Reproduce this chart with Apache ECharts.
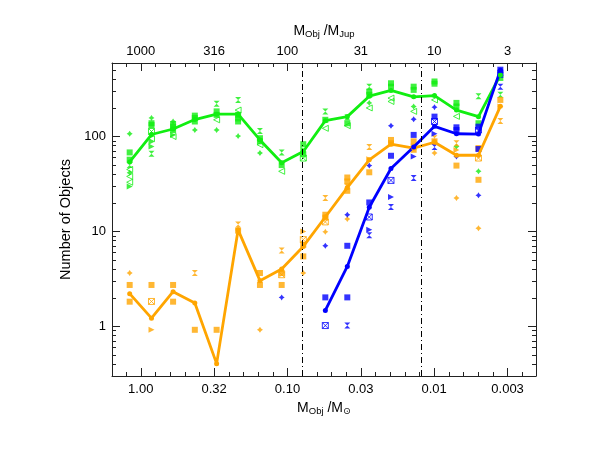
<!DOCTYPE html>
<html><head><meta charset="utf-8">
<script src="https://cdn.jsdelivr.net/npm/echarts@6/dist/echarts.min.js"></script>
<style>html,body{margin:0;padding:0;background:#fff}#c{width:598px;height:462px}</style>
</head><body><div id="c"></div>
<script>
// ---- data ----
const binMass = [1.19, 0.845, 0.602, 0.428, 0.304, 0.217, 0.154, 0.1095, 0.078, 0.0552, 0.0391, 0.0277, 0.0197, 0.0138, 0.00995, 0.00705, 0.00499, 0.00354];
const greenMean  = [54, 105, 120, 151, 172, 172, 92, 53, 69.5, 147, 162, 266, 306, 262, 270, 190, 162, 445];
const orangeMean = [2.21, 1.22, 2.32, 1.76, 0.405, 10.4, 3.03, 4.02, 6.95, 14.2, 29, 56.9, 83, 75.5, 87, 63.5, 63.5, 208];
const blueMean   = [null, null, null, null, null, null, null, null, null, 1.47, 4.28, 18, 46, 77.4, 128, 107, 106, 500];
// [bin, count, survey-symbol]
const greenPts = [
 [0,107,'s'],[0,68,'q'],[0,57,'q'],[0,50,'h'],[0,45,'l'],[0,41.6,'s'],[0,38,'l'],[0,33,'l'],[0,29.8,'r'],
 [1,157,'s'],[1,138,'q'],[1,132,'q'],[1,113,'x'],[1,95,'l'],[1,88,'r'],[1,78.5,'r'],[1,66,'h'],
 [2,144,'s'],[2,135,'q'],[2,127,'q'],[2,117,'q'],[2,104,'r'],[2,100,'l'],
 [3,166,'q'],[3,157,'q'],[3,144,'q'],[3,117,'s'],
 [4,221,'h'],[4,184,'q'],[4,169,'q'],[4,150,'l'],[4,117,'s'],
 [5,243,'h'],[5,190,'l'],[5,169,'q'],[5,155,'q'],[5,144,'q'],[5,101,'s'],
 [6,114,'h'],[6,96,'q'],[6,89,'q'],[6,82,'l'],[6,67,'s'],
 [7,68,'h'],[7,50,'q'],[7,43,'l'],
 [8,83,'q'],[8,72.5,'r'],[8,65,'q'],[8,59.3,'x'],
 [9,184,'h'],[9,150,'q'],[9,122,'l'],
 [10,160,'h'],[10,138,'q'],[10,130,'l'],
 [11,335,'h'],[11,297,'q'],[11,275,'q'],[11,226,'s'],[11,200,'l'],
 [12,364,'q'],[12,335,'q'],[12,254,'l'],[12,234,'l'],
 [13,335,'q'],[13,310,'q'],[13,207,'s'],[13,184,'l'],
 [14,380,'q'],[14,360,'q'],[14,243,'l'],
 [15,226,'q'],[15,207,'q'],[15,163,'l'],[15,78.5,'s'],
 [16,265,'h'],[16,138,'q'],[16,43,'s'],
 [17,414,'q'],[17,275,'h']
];
const orangePts = [
 [0,3.65,'s'],[0,2.73,'q'],[0,1.82,'q'],
 [1,2.73,'q'],[1,1.83,'x'],[1,0.92,'r'],
 [2,2.73,'q'],[2,1.82,'q'],
 [3,3.65,'h'],[3,0.92,'q'],
 [4,0.92,'q'],
 [5,11.8,'h'],[5,10.2,'q'],
 [6,3.65,'q'],[6,2.73,'q'],[6,0.92,'s'],
 [7,6.3,'h'],[7,3.65,'q'],[7,3.5,'x'],[7,2.73,'q'],
 [8,10,'r'],[8,8.2,'x'],[8,7.25,'q'],[8,5.46,'q'],[8,3.65,'s'],
 [9,22.5,'h'],[9,15,'q'],[9,14,'q'],[9,12.6,'x'],[9,9.9,'s'],
 [10,37,'q'],[10,33.6,'q'],[10,29.8,'h'],[10,26.8,'q'],[10,13.5,'s'],
 [11,77.5,'h'],[11,57.7,'r'],[11,42,'q'],
 [12,92,'q'],[12,85,'q'],
 [13,89,'q'],[13,78,'q'],[13,72.5,'q'],
 [14,96,'h'],[14,89,'q'],[14,67,'s'],
 [15,85,'h'],[15,72,'r'],[15,49.4,'q'],[15,22.5,'s'],
 [16,75.5,'q'],[16,59.3,'x'],[16,35,'q'],[16,10.8,'s'],
 [17,243,'q'],[17,207,'r'],[17,146,'h']
];
const bluePts = [
 [7,2.02,'s'],
 [9,7.06,'s'],[9,2.02,'q'],[9,1.02,'x'],
 [10,15,'s'],[10,7.06,'q'],[10,2.02,'q'],[10,1.02,'h'],
 [11,49.4,'s'],[11,20.2,'q'],[11,14.2,'x'],[11,10.4,'r'],[11,9.1,'h'],
 [12,130,'s'],[12,62.7,'q'],[12,34.5,'x'],[12,23,'r'],[12,18.1,'h'],
 [13,152,'s'],[13,104,'q'],[13,61.7,'r'],[13,36.5,'h'],
 [14,204,'s'],[14,162,'q'],[14,144,'x'],[14,107,'r'],[14,77.5,'h'],
 [15,125,'q'],[15,117,'q'],[15,61.7,'s'],
 [16,127,'q'],[16,117,'x'],[16,73.8,'q'],[16,24,'s'],
 [17,506,'q'],[17,470,'q'],[17,446,'q'],[17,335,'h']
];
const refLineMass = [0.08, 0.0124];               // H-burning and D-burning limits
const bottomTickMass = [1, 0.316, 0.1, 0.0316, 0.01, 0.00316];
const bottomTickLabels = ['1.00', '0.32', '0.10', '0.03', '0.01', '0.003'];
const topTickLabels = ['1000', '316', '100', '31', '10', '3'];
const yTickVals = [1, 10, 100];
const yTickLabels = ['1', '10', '100'];

// ---- chart ----
const LOG = Math.log10;
const FONT = "'Liberation Sans', Arial, Helvetica, sans-serif";
const C = {green: '#11ee11', orange: '#ffa500', blue: '#0000ff'};
const X_MIN = -2.694, X_MAX = 0.196, Y_MIN = LOG(0.3), Y_MAX = LOG(595);

const majorX = bottomTickMass.map(LOG);
const minorX = [];
for (let i = 1; i >= -26; i--) { if (i % 5 !== 0) minorX.push(i / 10); }
const majorY = yTickVals.map(LOG);
const minorY = [];
for (let e = -1; e <= 2; e++) for (let k = 2; k <= 9; k++) { const v = k * Math.pow(10, e); if (v > 0.3 && v < 595) minorY.push(LOG(v)); }

function nearestIdx(arr, v) { let b = 0; arr.forEach((a, i) => { if (Math.abs(a - v) < Math.abs(arr[b] - v)) b = i; }); return b; }

const labelStyle = {color: '#000', fontSize: 13, fontFamily: FONT};
const rich = {
  m: {fontSize: 14, fontFamily: FONT, color: '#000', lineHeight: 16},
  s: {fontSize: 9.5, fontFamily: FONT + ", 'DejaVu Sans'", color: '#000', verticalAlign: 'bottom', lineHeight: 9}
};

function xAx(pos, major, labels, name) {
  const a = {
    type: 'value', position: pos, min: X_MIN, max: X_MAX, inverse: true,
    axisLine: {show: major, onZero: false, lineStyle: {color: '#222', width: 1}},
    axisTick: {show: true, inside: true, length: major ? 8 : 4, customValues: major ? majorX : minorX, lineStyle: {color: '#222', width: 1}},
    axisLabel: {show: !!labels, customValues: majorX, margin: pos === 'bottom' ? 7 : 5, ...labelStyle,
      formatter: v => labels ? labels[nearestIdx(majorX, v)] : ''},
    splitLine: {show: false}, minorTick: {show: false}
  };
  if (name) {
    a.name = name; a.nameLocation = 'middle'; a.nameGap = pos === 'bottom' ? 17 : 24;
    a.nameTextStyle = {rich: rich};
  }
  return a;
}
function yAx(pos, major, labels) {
  const a = {
    type: 'value', position: pos, min: Y_MIN, max: Y_MAX,
    axisLine: {show: major, onZero: false, lineStyle: {color: '#222', width: 1}},
    axisTick: {show: true, inside: true, length: major ? 8 : 4, customValues: major ? majorY : minorY, lineStyle: {color: '#222', width: 1}},
    axisLabel: {show: !!labels, customValues: majorY, margin: 6, ...labelStyle,
      formatter: v => labels ? labels[nearestIdx(majorY, v)] : ''},
    splitLine: {show: false}
  };
  if (labels) {
    a.name = 'Number of Objects'; a.nameLocation = 'middle'; a.nameGap = 25;
    a.nameTextStyle = {fontSize: 14.5, fontFamily: FONT, color: '#000'};
  }
  return a;
}

const SYM = {
  s: {symbol: 'path://M5,0L7,3L10,5L7,7L5,10L3,7L0,5L3,3Z', size: 6, open: false},
  q: {symbol: 'rect', size: 6, open: false},
  r: {symbol: 'path://M0,0L10,5L0,10Z', size: 6, open: false},
  l: {symbol: 'path://M10,0L10,10L0,5Z', size: 6, open: true},
  h: {symbol: 'path://M0,0L10,0L5,5L10,10L0,10L5,5Z', size: [6, 6], open: false},
  x: {symbol: 'path://M0,0L10,0L10,10L0,10Z M0,0L10,10 M10,0L0,10', size: 6, open: true}
};

const series = [];
[[greenPts, C.green], [orangePts, C.orange], [bluePts, C.blue]].forEach(([pts, col]) => {
  Object.keys(SYM).forEach(k => {
    const d = pts.filter(p => p[2] === k).map(p => [LOG(binMass[p[0]]), LOG(p[1])]);
    if (!d.length) return;
    const sy = SYM[k];
    series.push({
      type: 'scatter', data: d, symbol: sy.symbol, symbolSize: sy.size, silent: true, z: 2,
      itemStyle: sy.open ? {color: 'rgba(0,0,0,0)', borderColor: col, borderWidth: 1} : {color: col}
    });
  });
});
function lineSeries(vals, col, extra) {
  return Object.assign({
    type: 'line', z: 3, silent: true,
    data: binMass.map((m, i) => vals[i] == null ? [LOG(m), null] : [LOG(m), LOG(vals[i])]),
    symbol: 'circle', symbolSize: 5, showSymbol: true, connectNulls: false,
    lineStyle: {color: col, width: 2.8}, itemStyle: {color: col}
  }, extra || {});
}
series.push(lineSeries(greenMean, C.green, {
  markLine: {silent: true, symbol: ['none', 'none'], label: {show: false}, animation: false,
    lineStyle: {color: '#000', width: 1, type: [6, 3, 1, 3]},
    data: refLineMass.map(m => ({xAxis: LOG(m)}))}
}));
series.push(lineSeries(orangeMean, C.orange));
series.push(lineSeries(blueMean, C.blue));

const chart = echarts.init(document.getElementById('c'), null, {renderer: 'canvas'});
chart.setOption({
  animation: false,
  backgroundColor: '#fff',
  grid: {left: 112, right: 62, top: 63, bottom: 86, containLabel: false},
  xAxis: [
    xAx('bottom', true, bottomTickLabels, '{m|M}{s|Obj}{m| /M}{s|⊙}'),
    xAx('bottom', false, null),
    xAx('top', true, topTickLabels, '{m|M}{s|Obj}{m| /M}{s|Jup}'),
    xAx('top', false, null)
  ],
  yAxis: [yAx('left', true, yTickLabels), yAx('left', false, null), yAx('right', true, null), yAx('right', false, null)],
  series: series
});
</script></body></html>
